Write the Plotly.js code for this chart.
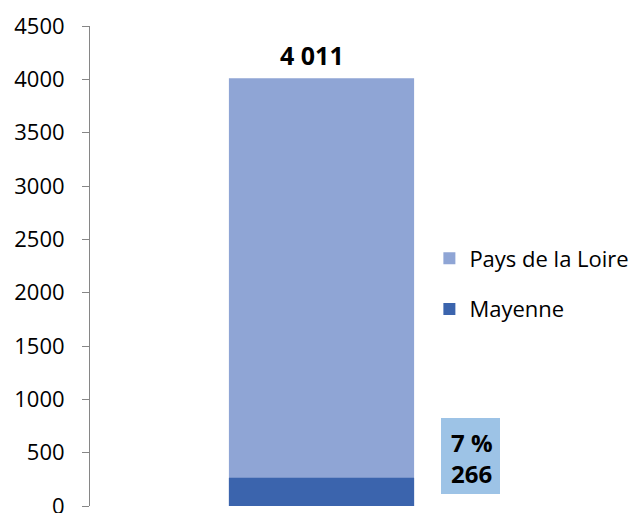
<!DOCTYPE html>
<html>
<head>
<meta charset="utf-8">
<script src="https://cdn.plot.ly/plotly-3.0.1.min.js"></script>
<style>html,body{margin:0;padding:0;background:#fff;overflow:hidden;}#chart{width:636px;height:530px;}</style>
</head>
<body>
<div id="chart"></div>
<script>
const categories = [""];
const seriesNames = ["Pays de la Loire", "Mayenne"];
const paysDeLaLoire = [4011];
const mayenne = [266];
const yTickValues = [0, 500, 1000, 1500, 2000, 2500, 3000, 3500, 4000, 4500];

const fmt = v => String(v).replace(/\B(?=(\d{3})+(?!\d))/g, " ");
const share = Math.round(mayenne[0] / paysDeLaLoire[0] * 100);
const FONT = "Open Sans, sans-serif";

const traces = [
  {type: "bar", name: seriesNames[0], x: categories, y: paysDeLaLoire, width: 0.4,
   marker: {color: "#8FA5D5"}, legendgroup: "a", hoverinfo: "skip"},
  {type: "bar", name: seriesNames[1], x: categories, y: mayenne, width: 0.4,
   marker: {color: "#3B64AD"}, legendgroup: "b", hoverinfo: "skip"}
];

const layout = {
  width: 636, height: 530,
  margin: {l: 90, r: 83, t: 26, b: 24, autoexpand: false},
  paper_bgcolor: "#fff", plot_bgcolor: "#fff",
  barmode: "overlay",
  font: {family: FONT, size: 22, color: "#000"},
  xaxis: {range: [-0.5, 0.5], showticklabels: false, showline: false, showgrid: false, zeroline: false, ticks: ""},
  yaxis: {range: [0, 4500], tickvals: yTickValues, ticktext: yTickValues.map(String),
          showgrid: false, zeroline: false, showline: true, linecolor: "#868686", linewidth: 1,
          ticks: "outside", ticklen: 7, tickcolor: "#868686", ticklabelstandoff: 13,
          tickfont: {family: FONT, size: 22, color: "#000"}},
  showlegend: true,
  legend: {x: 0.733, xanchor: "left", y: 0.4625, yanchor: "middle", traceorder: "grouped",
           tracegroupgap: 19, font: {family: FONT, size: 22, color: "#000"}, bgcolor: "rgba(0,0,0,0)"},
  shapes: [
    {type: "rect", xref: "paper", yref: "paper", x0: (441-90)/463, x1: (500-90)/463,
     y0: (506-494)/480, y1: (506-418)/480, fillcolor: "#9DC3E6", line: {width: 0}, layer: "above"}
  ],
  annotations: [
    {x: categories[0], y: paysDeLaLoire[0], xref: "x", yref: "y", text: "<b>" + fmt(paysDeLaLoire[0]) + "</b>",
     showarrow: false, yanchor: "bottom", xshift: -10, yshift: 4, font: {family: FONT, size: 25, color: "#000"}},
    {x: (449-90)/463, y: (506-458)/480, xref: "paper", yref: "paper", xanchor: "left", yanchor: "middle",
     align: "left", showarrow: false, text: "<b>" + share + " %<br>" + fmt(mayenne[0]) + "</b>",
     font: {family: FONT, size: 24, color: "#000"}}
  ]
};

Plotly.newPlot("chart", traces, layout, {staticPlot: true, displayModeBar: false});
</script>
</body>
</html>
